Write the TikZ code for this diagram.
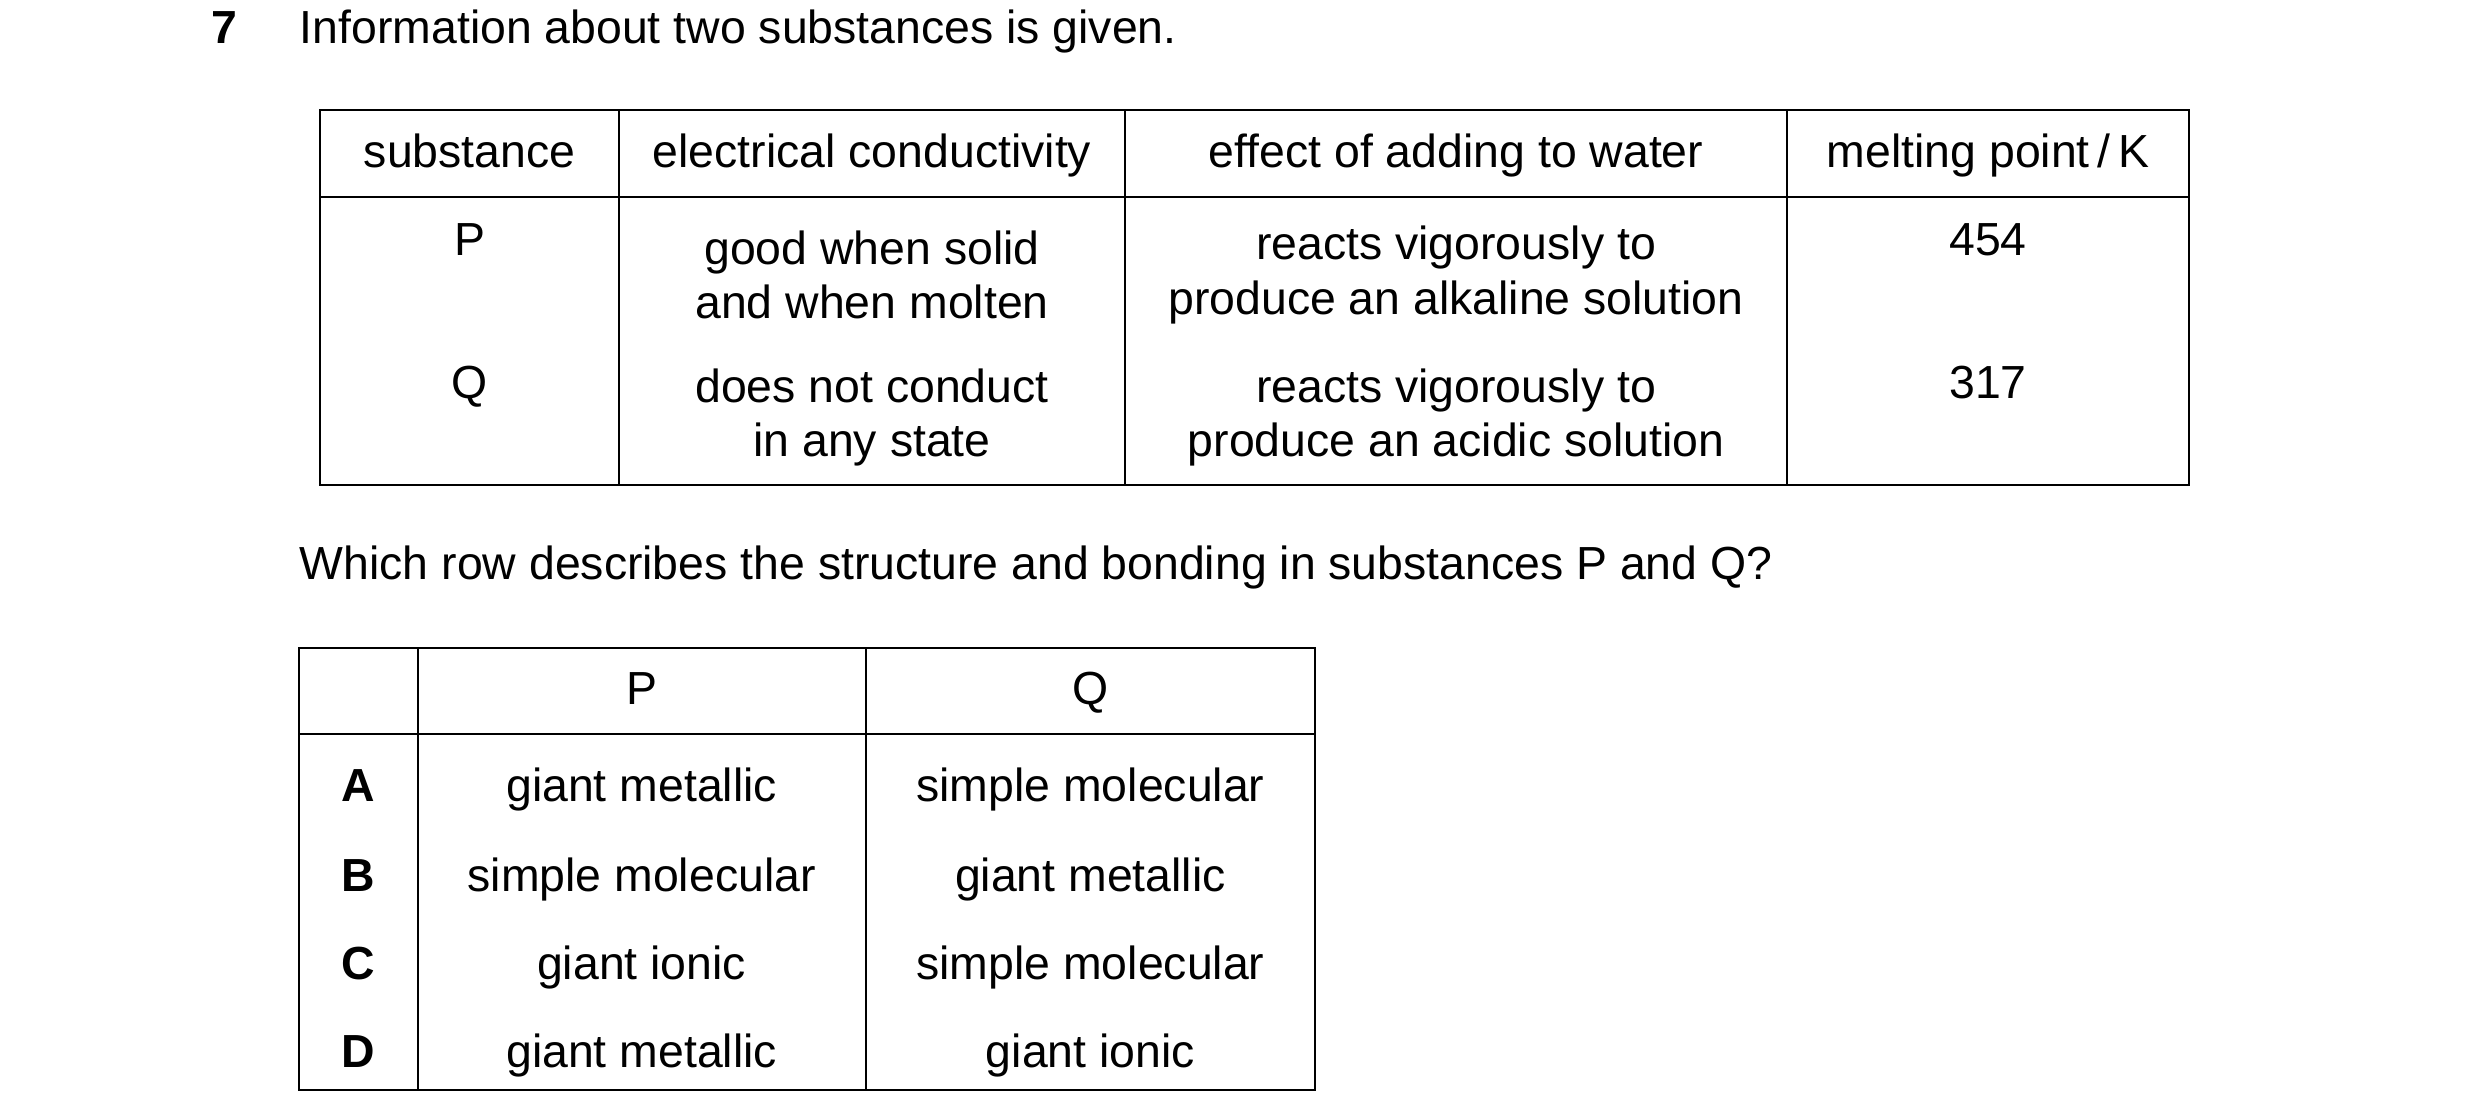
\documentclass[tikz,border=0pt]{standalone}
\usepackage{fontspec}
\setmainfont{Liberation Sans}
\usetikzlibrary{positioning}
\tikzset{
  txt/.style={inner sep=0pt, text height=0.7em, text depth=0.2em, yshift=-1.5pt, font=\fontsize{14.5}{17.5}\selectfont},
  cell/.style={txt, align=center},
  cell2/.style={inner sep=0pt, align=center, yshift=-1.5pt, font=\fontsize{14.5}{17}\selectfont},
  rule/.style={line width=0.6pt},
}
\begin{document}
\begin{tikzpicture}[x=0.5pt, y=-0.5pt]
  \useasboundingbox (0,0) rectangle (1550,699);

  % heading
  \node[txt, font=\fontsize{14.5}{17.5}\selectfont\bfseries] (num) at (140,19) {7};
  \node[txt, anchor=west] (intro) at (187,19) {Information about two substances is given.};

  % data table
  \draw[rule] (200,69) rectangle (1368,303);
  \draw[rule] (200,123) -- (1368,123);
  \foreach \x in {387,703,1117} \draw[rule] (\x,69) -- (\x,303);

  \node[cell] (hsub)  at (293.5,97) {substance};
  \node[cell] (hcond) at (545,97) {electrical conductivity};
  \node[cell] (hwat)  at (910,97) {effect of adding to water};
  \node[cell] (hmp)   at (1242.5,97) {melting point\,/\,K};

  \node[cell] (pname) at (293.5,152) {P};
  \node[cell2] (pcond) at (545,169) {good when solid\\and when molten};
  \node[cell2] (pwat)  at (910,169) {reacts vigorously to\\produce an alkaline solution};
  \node[cell] (pmp)   at (1242.5,152) {454};

  \node[cell] (qname) at (293.5,241) {Q};
  \node[cell2] (qcond) at (545,258) {does not conduct\\in any state};
  \node[cell2] (qwat)  at (910,258) {reacts vigorously to\\produce an acidic solution};
  \node[cell] (qmp)   at (1242.5,241) {317};

  \node[txt, anchor=west] (ask) at (187,354) {Which row describes the structure and bonding in substances P and Q?};

  % answer table
  \draw[rule] (187,405) rectangle (822,681);
  \draw[rule] (187,459) -- (822,459);
  \foreach \x in {261,541} \draw[rule] (\x,405) -- (\x,681);

  \node[cell] (colp) at (401,432) {P};
  \node[cell] (colq) at (681.5,432) {Q};

  \foreach \k/\y/\p/\q in {A/493/giant metallic/simple molecular,
                           B/549/simple molecular/giant metallic,
                           C/604/giant ionic/simple molecular,
                           D/659/giant metallic/giant ionic}{
    \node[cell, font=\fontsize{14.5}{17.5}\selectfont\bfseries] (key\k) at (224,\y) {\k};
    \node[cell] (p\k) at (401,\y) {\p};
    \node[cell] (q\k) at (681.5,\y) {\q};
  }
\end{tikzpicture}
\end{document}
